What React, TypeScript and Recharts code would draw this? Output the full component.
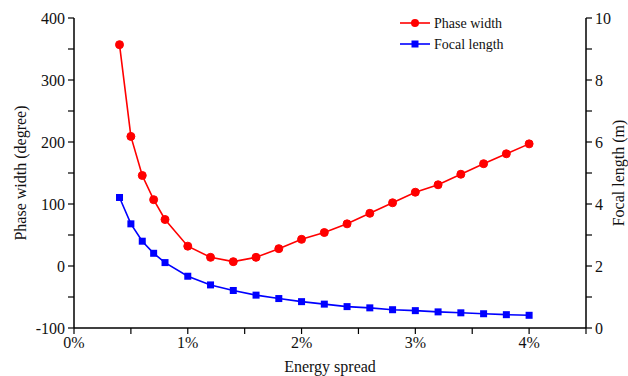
import React from 'react';
import { ComposedChart, Line, XAxis, YAxis, Legend, Label } from 'recharts';

const energySpread = [0.4, 0.5, 0.6, 0.7, 0.8, 1.0, 1.2, 1.4, 1.6, 1.8, 2.0, 2.2, 2.4, 2.6, 2.8, 3.0, 3.2, 3.4, 3.6, 3.8, 4.0];
const phaseWidth = [357, 209, 146, 107, 75, 32, 14, 7, 14, 28, 43, 54, 68, 85, 102, 119, 131, 148, 165, 181, 197];
const focalLength = [4.21, 3.36, 2.8, 2.41, 2.11, 1.67, 1.39, 1.21, 1.06, 0.95, 0.85, 0.77, 0.69, 0.65, 0.59, 0.56, 0.52, 0.49, 0.46, 0.43, 0.41];

const xTicks = [0, 0.5, 1, 1.5, 2, 2.5, 3, 3.5, 4, 4.5];
const leftTicks = [-100, -50, 0, 50, 100, 150, 200, 250, 300, 350, 400];
const rightTicks = [0, 1, 2, 3, 4, 5, 6, 7, 8, 9, 10];

const seriesNames = ['Phase width', 'Focal length'];

const data = energySpread.map((x, i) => ({ x, phase: phaseWidth[i], focal: focalLength[i] }));

const FONT = 'Liberation Serif, Times New Roman, serif';
const tickStyle = { fill: '#111', fontSize: 16, fontFamily: FONT };

const SquareDot = (props: any) => {
  const { cx, cy, index } = props;
  if (cx == null || cy == null) return <g key={`sq-${index}`} />;
  return <rect key={`sq-${index}`} x={cx - 3.5} y={cy - 3.5} width={7} height={7} fill="#0000ff" />;
};

const LegendContent = () => (
  <svg width={130} height={46} style={{ display: 'block' }}>
    <g>
      <line x1={2} y1={10} x2={32} y2={10} stroke="#ff0000" strokeWidth={1.6} />
      <circle cx={17} cy={10} r={4} fill="#ff0000" />
      <text x={36} y={14.5} fontSize={14} fontFamily={FONT} fill="#111">{seriesNames[0]}</text>
    </g>
    <g>
      <line x1={2} y1={31} x2={32} y2={31} stroke="#0000ff" strokeWidth={1.6} />
      <rect x={13.5} y={27.5} width={7} height={7} fill="#0000ff" />
      <text x={36} y={35.5} fontSize={14} fontFamily={FONT} fill="#111">{seriesNames[1]}</text>
    </g>
  </svg>
);

export default function App() {
  return (
    <div style={{ position: 'absolute', left: 0, top: 0 }}>
      <ComposedChart
        width={628}
        height={376}
        data={data}
        margin={{ top: 18, right: 0, bottom: 0, left: 0 }}
        style={{ fontFamily: FONT }}
      >
        <XAxis
          dataKey="x"
          type="number"
          domain={[0, 4.5]}
          ticks={xTicks}
          interval={0}
          height={48}
          tick={tickStyle}
          tickSize={6}
          tickMargin={3}
          tickFormatter={(v: number) => (Number.isInteger(v) && v <= 4 ? `${v}%` : '')}
          axisLine={{ stroke: '#000', strokeWidth: 1.5 }}
          tickLine={{ stroke: '#000', strokeWidth: 1.2 }}
        >
          <Label
            content={() => (
              <text x={330} y={372} textAnchor="middle" fontSize={16} fontFamily={FONT} fill="#111">
                Energy spread
              </text>
            )}
          />
        </XAxis>
        <YAxis
          yAxisId="left"
          orientation="left"
          domain={[-100, 400]}
          ticks={leftTicks}
          interval={0}
          width={74}
          tick={tickStyle}
          tickSize={6}
          tickMargin={3}
          tickFormatter={(v: number) => (v % 100 === 0 ? `${v}` : '')}
          axisLine={{ stroke: '#000', strokeWidth: 1.5 }}
          tickLine={{ stroke: '#000', strokeWidth: 1.2 }}
        >
          <Label
            content={() => (
              <text
                x={26}
                y={173}
                transform="rotate(-90 26 173)"
                textAnchor="middle"
                fontSize={16}
                fontFamily={FONT}
                fill="#111"
              >
                Phase width (degree)
              </text>
            )}
          />
        </YAxis>
        <YAxis
          yAxisId="right"
          orientation="right"
          domain={[0, 10]}
          ticks={rightTicks}
          interval={0}
          width={42}
          tick={tickStyle}
          tickSize={6}
          tickMargin={3}
          tickFormatter={(v: number) => (v % 2 === 0 ? `${v}` : '')}
          axisLine={{ stroke: '#000', strokeWidth: 1.5 }}
          tickLine={{ stroke: '#000', strokeWidth: 1.2 }}
        >
          <Label
            content={() => (
              <text
                x={624}
                y={173}
                transform="rotate(-90 624 173)"
                textAnchor="middle"
                fontSize={16}
                fontFamily={FONT}
                fill="#111"
              >
                Focal length (m)
              </text>
            )}
          />
        </YAxis>
        <Legend
          layout="vertical"
          align="center"
          verticalAlign="middle"
          content={() => <LegendContent />}
          wrapperStyle={{ position: 'absolute', left: 398, top: 13, width: 130, height: 46 }}
        />
        <Line
          yAxisId="left"
          dataKey="phase"
          name={seriesNames[0]}
          stroke="#ff0000"
          strokeWidth={1.6}
          dot={{ r: 4, fill: '#ff0000', stroke: '#ff0000', strokeWidth: 1 }}
          isAnimationActive={false}
        />
        <Line
          yAxisId="right"
          dataKey="focal"
          name={seriesNames[1]}
          stroke="#0000ff"
          strokeWidth={1.6}
          dot={SquareDot}
          isAnimationActive={false}
        />
      </ComposedChart>
    </div>
  );
}
